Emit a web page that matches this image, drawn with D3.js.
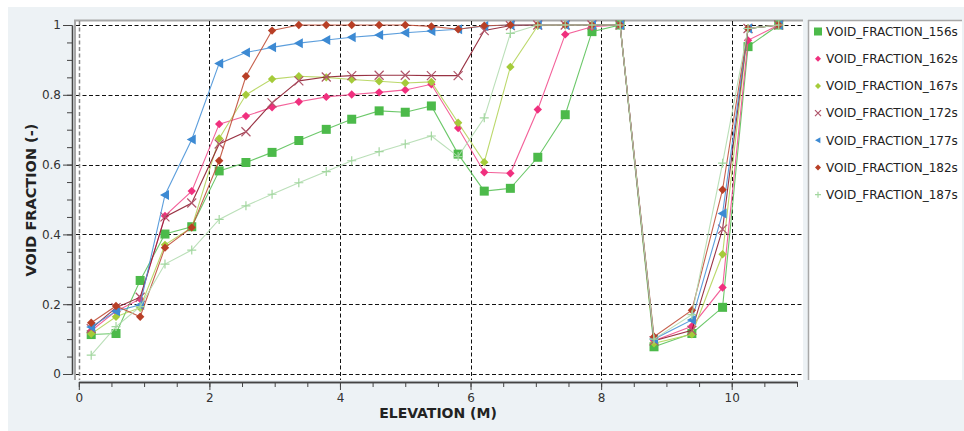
<!DOCTYPE html>
<html>
<head>
<meta charset="utf-8">
<script src="https://cdn.jsdelivr.net/npm/d3@7"></script>
<style>
body{margin:0;background:#fff;}
text{font-family:"DejaVu Sans",sans-serif;}
</style>
</head>
<body>
<div id="chart"></div>
<script>
// elevation of each measuring point (m)
var elevation = [0.19,0.57,0.94,1.32,1.73,2.15,2.56,2.96,3.37,3.79,4.18,4.6,5.0,5.4,5.81,6.21,6.61,7.03,7.45,7.86,8.29,8.81,9.39,9.86,10.25,10.72];

var vf156 = [0.113,0.116,0.268,0.401,0.422,0.582,0.606,0.635,0.669,0.701,0.730,0.754,0.750,0.768,0.630,0.524,0.532,0.621,0.743,0.981,1.0,0.078,0.116,0.191,0.938,1.0];
var vf162 = [0.124,0.180,0.215,0.453,0.524,0.716,0.739,0.764,0.780,0.794,0.801,0.807,0.814,0.830,0.705,0.578,0.575,0.758,0.973,0.995,1.0,0.095,0.137,0.248,0.956,1.0];
var vf167 = [0.115,0.164,0.190,0.370,0.420,0.675,0.800,0.845,0.853,0.850,0.844,0.839,0.834,0.837,0.720,0.607,0.880,0.998,1.0,1.0,1.0,0.088,0.114,0.343,0.990,1.0];
var vf172 = [0.130,0.190,0.220,0.450,0.490,0.659,0.694,0.777,0.840,0.851,0.855,0.856,0.856,0.855,0.855,0.984,0.998,1.0,1.0,1.0,1.0,0.095,0.125,0.415,0.990,1.0];
var vf177 = [0.135,0.180,0.198,0.513,0.672,0.890,0.921,0.936,0.948,0.957,0.965,0.971,0.978,0.983,0.988,0.997,1.0,1.0,1.0,1.0,1.0,0.100,0.155,0.460,0.990,1.0];
var vf182 = [0.147,0.195,0.164,0.362,0.420,0.611,0.853,0.984,1.0,1.0,1.0,1.0,1.0,0.996,0.988,0.998,1.0,1.0,1.0,1.0,1.0,0.107,0.183,0.528,0.990,1.0];
var vf187 = [0.054,0.136,0.193,0.315,0.355,0.443,0.482,0.515,0.548,0.580,0.611,0.637,0.659,0.682,0.623,0.734,0.976,1.0,1.0,1.0,1.0,0.100,0.170,0.604,0.990,1.0];

var seriesNames = ["VOID_FRACTION_156s","VOID_FRACTION_162s","VOID_FRACTION_167s","VOID_FRACTION_172s","VOID_FRACTION_177s","VOID_FRACTION_182s","VOID_FRACTION_187s"];
var seriesValues = [vf156,vf162,vf167,vf172,vf177,vf182,vf187];
var xTicks = [0,2,4,6,8,10];
var yTicks = [0,0.2,0.4,0.6,0.8,1];

var colors = ["#4cba4a","#f0307e","#a5cb3a","#8e1d30","#3d8ad3","#b83f26","#a3d7a0"];
var lineColors = ["#5cc25a","#f2508e","#b4d45a","#8e1d30","#4a94d8","#c0503a","#b2dcb0"];
var shapes = ["square","diamond","diamond","cross","triangle","diamond","plus"];

var width = 964, height = 431;
var svg = d3.select("#chart").append("svg")
    .attr("width",width)
    .attr("height",height);

// panel background
svg.append("rect").attr("x",8).attr("y",7).attr("width",width-8).attr("height",height-7).attr("fill","#edf2f5");

var x = d3.scaleLinear().domain([0,11]).range([78.8,797]);
var y = d3.scaleLinear().domain([0,1]).range([374,25]);

// plot frame
svg.append("rect").attr("x",74).attr("y",20).attr("width",729).attr("height",360).attr("fill","#fff");
svg.append("line").attr("x1",74).attr("x2",803).attr("y1",20.5).attr("y2",20.5).attr("stroke","#a8a8a8").attr("stroke-width",2);
svg.append("line").attr("x1",75).attr("x2",75).attr("y1",20).attr("y2",380).attr("stroke","#a8a8a8").attr("stroke-width",2);

// dashed grid
svg.selectAll("line.hgrid").data(yTicks).enter().append("line")
    .attr("class","hgrid")
    .attr("x1",76).attr("x2",803)
    .attr("y1",function(d){return Math.round(y(d))+0.5;})
    .attr("y2",function(d){return Math.round(y(d))+0.5;})
    .attr("stroke","#111").attr("stroke-dasharray","4,2.5");
svg.selectAll("line.vgrid").data(xTicks).enter().append("line")
    .attr("class","vgrid")
    .attr("x1",function(d){return Math.round(x(d))+0.5;})
    .attr("x2",function(d){return Math.round(x(d))+0.5;})
    .attr("y1",21).attr("y2",380)
    .attr("stroke",function(d){return d==0?"#888":"#111";})
    .attr("stroke-width",function(d){return d==0?1.5:1;})
    .attr("stroke-dasharray","4,2.5");

// axes
var fmt = function(d){return String(+d.toFixed(1));};
var xMinor = d3.range(0,11.01,0.5);
var yMinor = d3.range(0,1.001,0.05);

svg.append("g").attr("transform","translate(0,382)")
    .call(d3.axisBottom(x).tickValues(xMinor).tickSize(5).tickSizeOuter(0).tickFormat(""));
svg.append("g").attr("class","xaxis").attr("transform","translate(0,382)")
    .call(d3.axisBottom(x).tickValues(xTicks).tickSize(8).tickSizeOuter(0).tickPadding(3).tickFormat(fmt));
svg.append("g").attr("transform","translate(72,0)")
    .call(d3.axisLeft(y).tickValues(yMinor).tickSize(5).tickSizeOuter(0).tickFormat(""));
svg.append("g").attr("class","yaxis").attr("transform","translate(72,0)")
    .call(d3.axisLeft(y).tickValues(yTicks).tickSize(9).tickSizeOuter(0).tickPadding(2).tickFormat(fmt));

svg.selectAll(".domain").attr("stroke","#444").attr("stroke-width",1.3);
svg.selectAll(".tick line").attr("stroke","#444");
svg.selectAll(".tick text").attr("font-family","DejaVu Sans").attr("font-size","12px").attr("fill","#333");

svg.append("text").attr("x",438).attr("y",418).attr("text-anchor","middle")
    .attr("font-size","14px").attr("font-weight","bold").attr("fill","#222")
    .text("ELEVATION (M)");
svg.append("text").attr("transform","translate(36,200) rotate(-90)").attr("text-anchor","middle")
    .attr("font-size","14.5px").attr("font-weight","bold").attr("fill","#222")
    .text("VOID FRACTION (-)");

// marker drawing
function marker(g,shape,color,s){
    if(shape=="square"){
        g.append("rect").attr("x",-s).attr("y",-s).attr("width",2*s).attr("height",2*s).attr("fill",color);
    }else if(shape=="diamond"){
        g.append("path").attr("d","M0,"+(-s)+"L"+s+",0L0,"+s+"L"+(-s)+",0Z").attr("fill",color);
    }else if(shape=="triangle"){
        g.append("path").attr("d","M"+(-s)+",0L"+(s*0.8)+","+(-s)+"L"+(s*0.8)+","+s+"Z").attr("fill",color);
    }else if(shape=="cross"){
        g.append("path").attr("d","M"+(-s)+","+(-s)+"L"+s+","+s+"M"+(-s)+","+s+"L"+s+","+(-s))
            .attr("stroke","#b0566a").attr("stroke-width",1.2).attr("fill","none");
    }else if(shape=="plus"){
        g.append("path").attr("d","M"+(-s)+",0L"+s+",0M0,"+(-s)+"L0,"+s)
            .attr("stroke",color).attr("stroke-width",1.2).attr("fill","none");
    }
}
var markerSize = [4.5,4.2,4.2,4.5,5,4.2,4.5];

var line = d3.line()
    .x(function(d){return x(d[0]);})
    .y(function(d){return y(d[1]);});

for(var i=0;i<seriesValues.length;i++){
    var pts = elevation.map(function(e,j){return [e,seriesValues[i][j]];});
    svg.append("path").datum(pts)
        .attr("d",line)
        .attr("fill","none")
        .attr("stroke",lineColors[i])
        .attr("stroke-width",1.1)
        .attr("opacity",0.9);
    var s = markerSize[i], sh = shapes[i], c = colors[i];
    svg.selectAll("g.m"+i).data(pts).enter().append("g")
        .attr("class","m"+i)
        .attr("transform",function(d){return "translate("+x(d[0])+","+y(d[1])+")";})
        .each(function(){marker(d3.select(this),sh,c,s);});
}

// legend
svg.append("rect").attr("x",808).attr("y",20).attr("width",154).attr("height",360).attr("fill","#fff");
svg.append("line").attr("x1",808).attr("x2",962).attr("y1",20.5).attr("y2",20.5).attr("stroke","#a8a8a8").attr("stroke-width",1.5);
svg.append("line").attr("x1",808.5).attr("x2",808.5).attr("y1",20).attr("y2",380).attr("stroke","#a8a8a8").attr("stroke-width",1.5);

var legend = svg.selectAll("g.legend").data(seriesNames).enter().append("g")
    .attr("class","legend")
    .attr("transform",function(d,i){return "translate(818,"+(31.5+i*27.2)+")";});
legend.each(function(d,i){
    var s = shapes[i]=="square"?4:3;
    marker(d3.select(this),shapes[i],colors[i],s);
});
legend.append("text")
    .attr("x",8).attr("y",0).attr("dy","0.36em")
    .attr("font-size","12px").attr("fill","#222")
    .text(function(d){return d;});
</script>
</body>
</html>
